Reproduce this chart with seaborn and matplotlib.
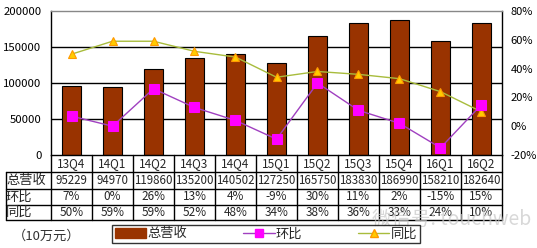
import matplotlib
matplotlib.use("Agg")
import matplotlib.pyplot as plt
import matplotlib.transforms as mtransforms
from matplotlib.lines import Line2D
from matplotlib.patches import Patch
import pandas as pd
import seaborn as sns

# 数据
quarters = ["13Q4", "14Q1", "14Q2", "14Q3", "14Q4", "15Q1",
            "15Q2", "15Q3", "15Q4", "16Q1", "16Q2"]
revenue = [95229, 94970, 119860, 135200, 140502, 127250,
           165750, 183830, 186990, 158210, 182640]
qoq = [7, 0, 26, 13, 4, -9, 30, 11, 2, -15, 15]      # 环比 %
yoy = [50, 59, 59, 52, 48, 34, 38, 36, 33, 24, 10]   # 同比 %

sns.set_theme(style="white")
plt.rcParams['font.family'] = ['Noto Sans CJK SC', 'DejaVu Sans']

df = pd.DataFrame({"季度": quarters, "总营收": revenue, "环比": qoq, "同比": yoy})
pos = list(range(len(quarters)))

W, H = 537, 248
fig = plt.figure(figsize=(W / 100, H / 100), dpi=100)
fy = lambda p: 1 - p / H
ax = fig.add_axes([51 / W, fy(155), 451 / W, 144 / H])

BAR = "#993300"
sns.barplot(data=df, x="季度", y="总营收", color=BAR, width=0.44,
            edgecolor="black", linewidth=0.8, saturation=1, ax=ax, zorder=2)
ax.set_xlim(-0.5, len(quarters) - 0.5)
ax.set_ylim(0, 200000)
ax.set_yticks([0, 50000, 100000, 150000, 200000])
ax.set_yticklabels(["0", "50000", "100000", "150000", "200000"])
for v in [50000, 100000, 150000]:
    ax.axhline(v, color="black", lw=1, zorder=0.5)
ax.tick_params(axis="x", bottom=False, labelbottom=False)
ax.tick_params(axis="y", length=0, pad=7, labelsize=8.2, labelcolor="black")
ax.set_xlabel("")
ax.set_ylabel("")
for s in ["left", "right", "bottom"]:
    ax.spines[s].set_color("black")
    ax.spines[s].set_linewidth(1)
ax.spines["top"].set_color("#888888")
ax.spines["top"].set_linewidth(1)

# 右轴：环比 / 同比
ax2 = ax.twinx()
sns.lineplot(x=pos, y=yoy, ax=ax2, color="#A8BC3C", lw=1, marker="^",
             markersize=6, markerfacecolor="#FFCC00", markeredgecolor="#FF9900",
             markeredgewidth=0.8)
sns.lineplot(x=pos, y=qoq, ax=ax2, color="#A040C0", lw=1, marker="s",
             markersize=7, markerfacecolor="#FF00FF", markeredgecolor="#FF00FF")
ax2.set_ylim(-20, 80)
ax2.set_yticks([-20, 0, 20, 40, 60, 80])
ax2.set_yticklabels(["-20%", "0%", "20%", "40%", "60%", "80%"])
ax2.tick_params(axis="y", length=0, pad=6, labelsize=8, labelcolor="black")
ax2.set_ylabel("")
for s in ax2.spines.values():
    s.set_visible(False)

# 数据表
trans = mtransforms.blended_transform_factory(ax.transData, fig.transFigure)
rows = [155, 172, 189, 205, 220]
x_right = 502 / W
for y in rows[1:]:
    fig.add_artist(Line2D([6 / W, x_right], [fy(y)] * 2, color="black", lw=1))
fig.add_artist(Line2D([6 / W] * 2, [fy(172), fy(220)], color="black", lw=1))
for i in range(len(quarters) + 1):
    fig.add_artist(Line2D([i - 0.5] * 2, [fy(155), fy(220)], color="black",
                          lw=1, transform=trans))

centers = [(rows[k] + rows[k + 1]) / 2 for k in range(4)]
fmt_pct = lambda v: f"{v}%" if v >= 0 else f"-{abs(v)}%"
for i, q in enumerate(quarters):
    ax.text(i, fy(centers[0]), q, transform=trans, ha="center", va="center",
            fontsize=8.5, clip_on=False)
    ax.text(i, fy(centers[1]), str(revenue[i]), transform=trans, ha="center",
            va="center", fontsize=8.3, clip_on=False)
    ax.text(i, fy(centers[2]), fmt_pct(qoq[i]), transform=trans, ha="center",
            va="center", fontsize=8.5, clip_on=False)
    ax.text(i, fy(centers[3]), fmt_pct(yoy[i]), transform=trans, ha="center",
            va="center", fontsize=8.5, clip_on=False)
for k, lab in enumerate(["总营收", "环比", "同比"]):
    fig.text(6 / W, fy(centers[k + 1]), lab, ha="left", va="center", fontsize=9.5)

fig.text(13 / W, fy(236), "（10万元）", ha="left", va="center", fontsize=9.5,
         color="#333333")

# 图例
handles = [
    Patch(facecolor=BAR, edgecolor=BAR),
    Line2D([], [], color="#A040C0", lw=1, marker="s", markersize=6,
           markerfacecolor="#FF00FF", markeredgecolor="#FF00FF"),
    Line2D([], [], color="#A8BC3C", lw=1, marker="^", markersize=6,
           markerfacecolor="#FFCC00", markeredgecolor="#FF9900"),
]
leg = fig.legend(handles, ["总营收", "环比", "同比"], loc="center",
                 bbox_to_anchor=(266 / W, fy(234)), ncol=3, frameon=True,
                 fancybox=False, edgecolor="black", fontsize=9.5,
                 handlelength=2.4, handletextpad=0.1, columnspacing=4.2,
                 borderpad=0.2, borderaxespad=0)
leg.get_frame().set_linewidth(1)

# 水印
fig.text(372 / W, fy(219), "微信号: touchweb", ha="left", va="center",
         fontsize=14, color="#c8c8c8", alpha=0.7)

fig.savefig("out.png", dpi=100)
